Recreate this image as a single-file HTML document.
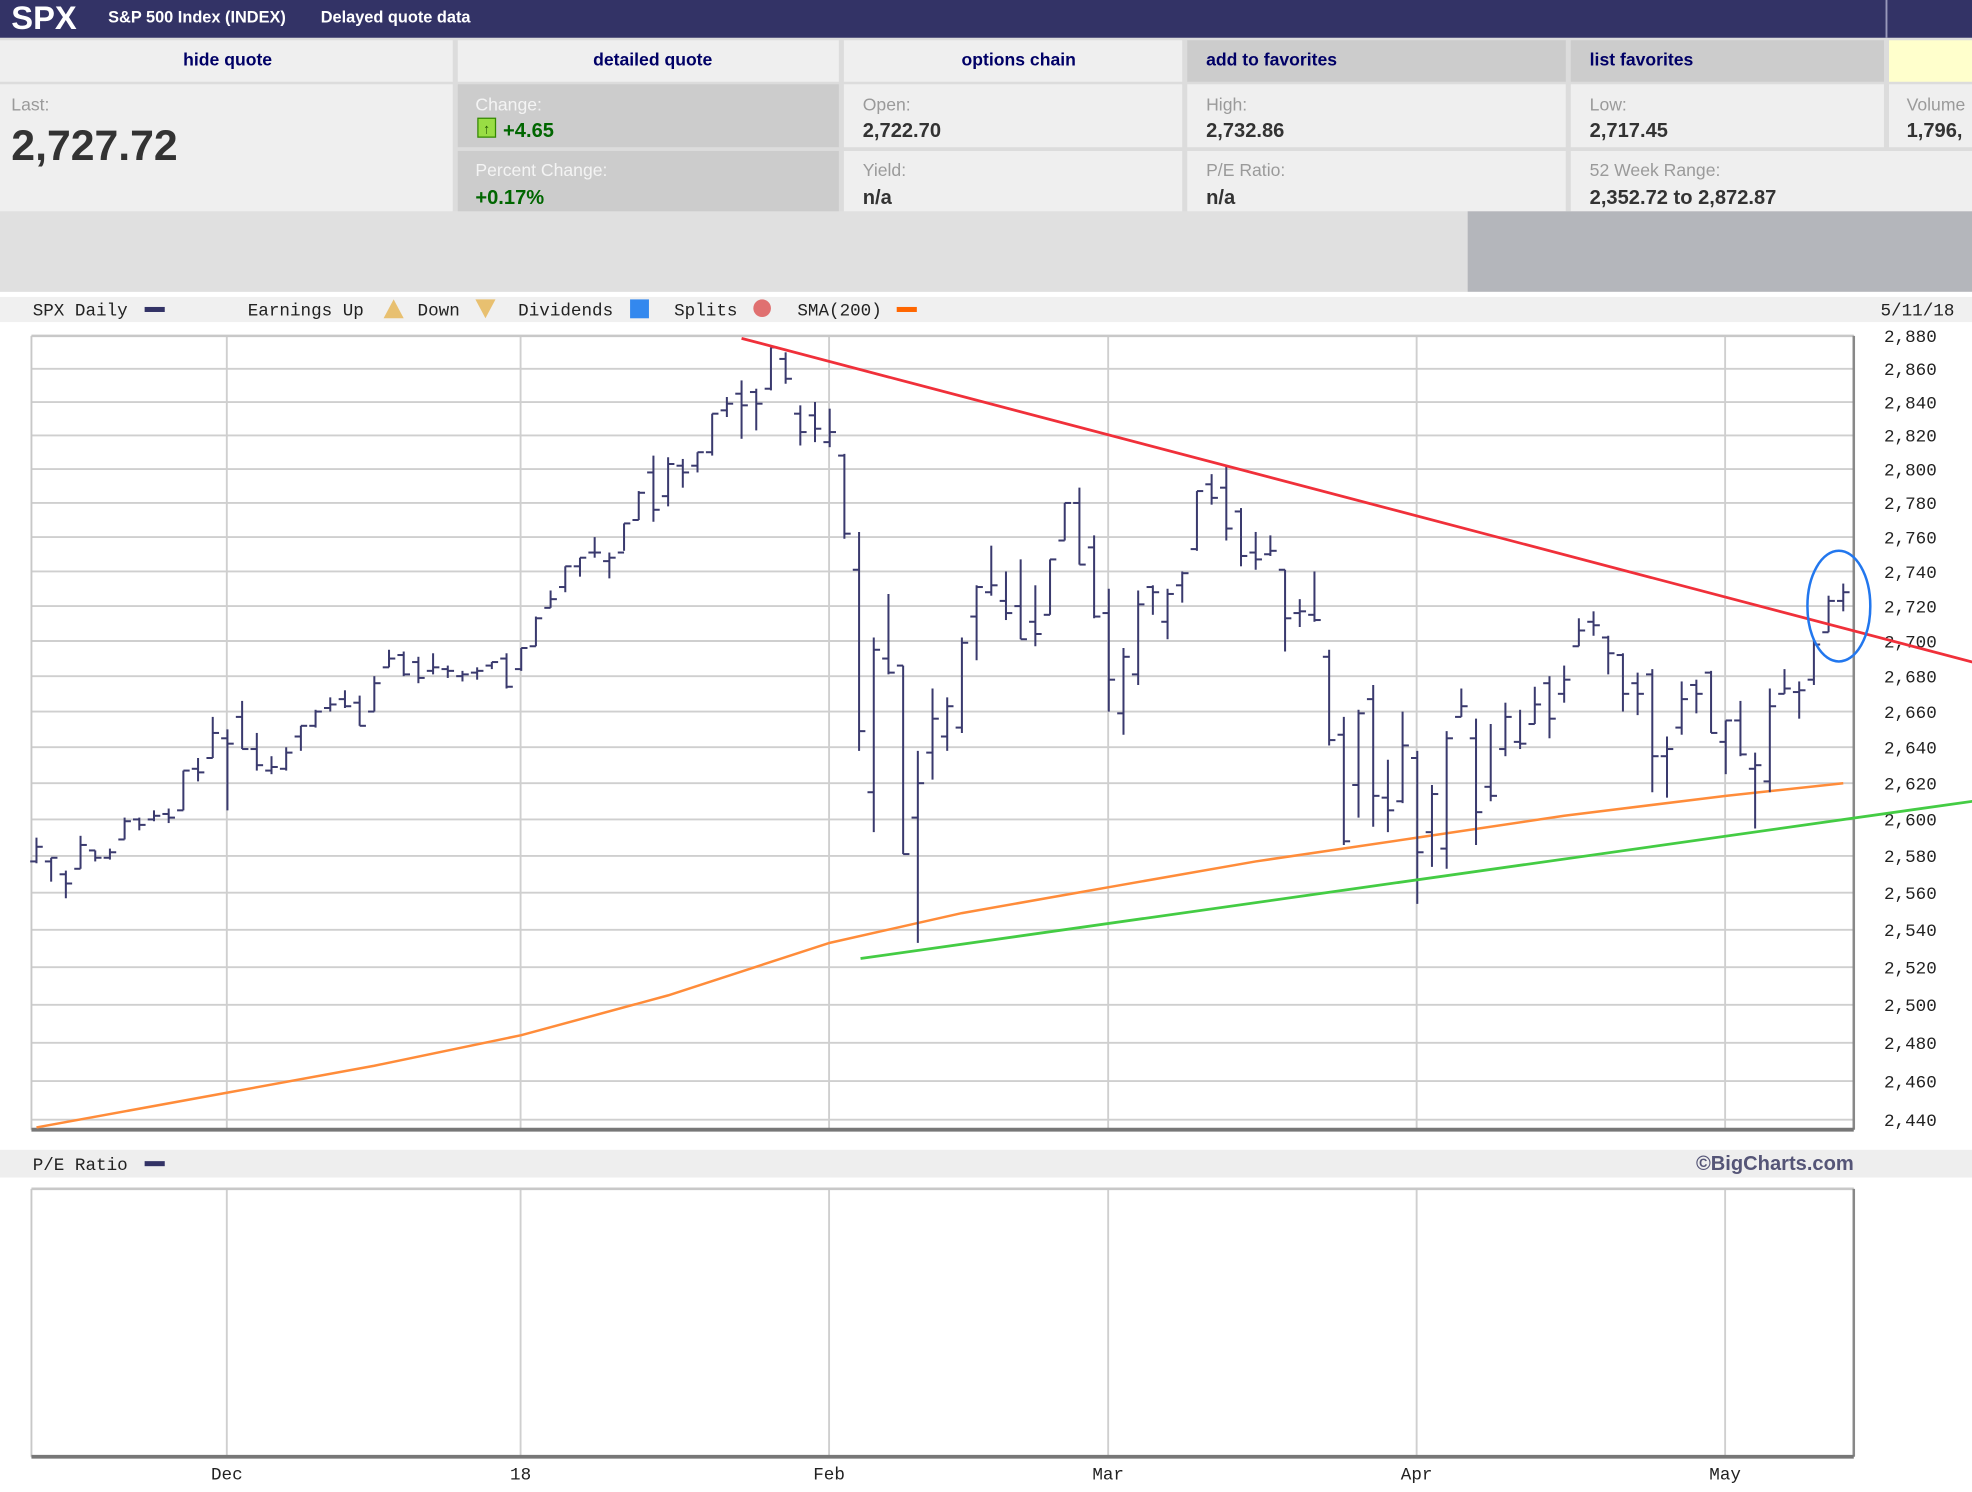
<!DOCTYPE html>
<html><head><meta charset="utf-8"><style>
html,body{margin:0;padding:0;background:#fff;}
svg{display:block;}
.h{font-family:"Liberation Sans",sans-serif;}
.m{font-family:"Liberation Mono",monospace;}
</style></head><body>
<svg id="root" width="1972" height="1492" viewBox="0 0 1568 1186" preserveAspectRatio="none" xmlns="http://www.w3.org/2000/svg">
<rect x="0" y="0" width="1568" height="1186" fill="#dcdcdc"/>
<!-- header -->
<g>
<rect x="0" y="0" width="1568" height="30" fill="#333366"/>
<line x1="1500" y1="0" x2="1500" y2="30" stroke="#9999bb" stroke-width="1.5"/>
<text x="9" y="23" class="h" font-size="26" font-weight="bold" fill="#fff">SPX</text>
<text x="86" y="18" class="h" font-size="13" font-weight="bold" fill="#fff">S&amp;P 500 Index (INDEX)</text>
<text x="255" y="18" class="h" font-size="13" font-weight="bold" fill="#fff">Delayed quote data</text>
</g>
<g class="h" font-size="14" font-weight="bold" fill="#000066">
<rect x="0" y="32" width="360" height="33" fill="#efefef"/>
<rect x="364" y="32" width="303" height="33" fill="#efefef"/>
<rect x="671" y="32" width="269" height="33" fill="#efefef"/>
<rect x="944" y="32" width="301" height="33" fill="#cccccc"/>
<rect x="1249" y="32" width="249" height="33" fill="#cccccc"/>
<rect x="1502" y="32" width="66" height="33" fill="#ffffcc"/>
<text x="181" y="52" text-anchor="middle">hide quote</text>
<text x="519" y="52" text-anchor="middle">detailed quote</text>
<text x="810" y="52" text-anchor="middle">options chain</text>
<text x="959" y="52">add to favorites</text>
<text x="1264" y="52">list favorites</text>
</g>
<g class="h">
<rect x="0" y="67" width="360" height="101" fill="#efefef"/>
<rect x="364" y="67" width="303" height="50" fill="#cccccc"/>
<rect x="364" y="120" width="303" height="48" fill="#cccccc"/>
<rect x="671" y="67" width="269" height="50" fill="#efefef"/>
<rect x="944" y="67" width="301" height="50" fill="#efefef"/>
<rect x="1249" y="67" width="249" height="50" fill="#efefef"/>
<rect x="1502" y="67" width="66" height="50" fill="#efefef"/>
<rect x="671" y="120" width="269" height="48" fill="#efefef"/>
<rect x="944" y="120" width="301" height="48" fill="#efefef"/>
<rect x="1249" y="120" width="319" height="48" fill="#efefef"/>
<rect x="0" y="168" width="1568" height="64" fill="#e0e0e0"/>
<rect x="1167" y="168" width="401" height="64" fill="#b4b6bb"/>
<g font-size="14" fill="#9a9a9a">
<text x="9" y="88">Last:</text>
<text x="378" y="88" fill="#f4f4f4">Change:</text>
<text x="378" y="140" fill="#f4f4f4">Percent Change:</text>
<text x="686" y="88">Open:</text>
<text x="959" y="88">High:</text>
<text x="1264" y="88">Low:</text>
<text x="1516" y="88">Volume</text>
<text x="686" y="140">Yield:</text>
<text x="959" y="140">P/E Ratio:</text>
<text x="1264" y="140">52 Week Range:</text>
</g>
<text x="9" y="127" font-size="34" font-weight="bold" fill="#333">2,727.72</text>
<rect x="380" y="94" width="14" height="15" fill="#99dd44" stroke="#338800" stroke-width="1"/>
<text x="387" y="106" font-size="11" text-anchor="middle" fill="#225500">↑</text>
<g font-size="16" font-weight="bold" fill="#333">
<text x="400" y="109" fill="#006600">+4.65</text>
<text x="378" y="162" fill="#006600">+0.17%</text>
<text x="686" y="109">2,722.70</text>
<text x="959" y="109">2,732.86</text>
<text x="1264" y="109">2,717.45</text>
<text x="1516" y="109">1,796,</text>
<text x="686" y="162">n/a</text>
<text x="959" y="162">n/a</text>
<text x="1264" y="162">2,352.72 to 2,872.87</text>
</g>
</g>
<!-- chart area -->
<rect x="0" y="232" width="1568" height="954" fill="#ffffff"/>
<rect x="0" y="236" width="1568" height="20" fill="#f0f0f0"/>
<g class="m" font-size="14" fill="#222">
<text x="26" y="251">SPX Daily</text><rect x="115" y="244" width="16" height="4" fill="#333366"/>
<text x="197" y="251">Earnings Up</text><polygon points="305,253 313,238 321,253" fill="#e8c070"/>
<text x="332" y="251">Down</text><polygon points="378,238 394,238 386,253" fill="#e8c070"/>
<text x="412" y="251">Dividends</text><rect x="501" y="238" width="15" height="15" fill="#3388ee"/>
<text x="536" y="251">Splits</text><circle cx="606" cy="245" r="7" fill="#e07070"/>
<text x="634" y="251">SMA(200)</text><rect x="713" y="244" width="16" height="4" fill="#ff6600"/>
<text x="1554" y="251" text-anchor="end">5/11/18</text>
</g>
<g id="plot"></g>
<rect x="0" y="914" width="1568" height="22" fill="#eeeeee"/>
<g class="m" font-size="14" fill="#222">
<text x="26" y="930">P/E Ratio</text><rect x="115" y="923" width="16" height="4" fill="#333366"/>
<text x="1474" y="930" text-anchor="end" class="h" font-weight="bold" font-size="16" fill="#555577">©BigCharts.com</text>
</g>
<g id="pe"></g>
</svg>
<script>
const NS='http://www.w3.org/2000/svg';
// ---- data ----
const monthLabels=['Dec','18','Feb','Mar','Apr','May'];
const monthStartIdx=[13,33,54,73,94,115];
const yTicks=[2440,2460,2480,2500,2520,2540,2560,2580,2600,2620,2640,2660,2680,2700,2720,2740,2760,2780,2800,2820,2840,2860,2880];
const opens=[2577,2577,2570,2573,2583,2579,2589,2600,2600,2603,2605,2628,2634,
2645,2657,2639,2627,2628,2646,2652,2662,2667,2665,2660,2685,2692,2688,2683,2684,2680,2682,2686,2690,
2684,2697,2719,2731,2743,2751,2746,2751,2770,2798,2784,2802,2802,2810,2835,2845,2846,2848,2866,2833,2832,
2816,2808,2741,2615,2690,2686,2601,2637,2646,2651,2714,2728,2723,2720,2711,2715,2758,2780,2754,
2716,2659,2681,2731,2711,2732,2753,2791,2789,2775,2751,2750,2741,2716,2715,2691,2647,2619,2667,2612,2610,
2634,2593,2584,2657,2645,2618,2639,2643,2653,2676,2670,2697,2711,2702,2692,2676,2681,2635,2651,2675,2682,
2643,2655,2628,2621,2670,2671,2678,2705,2723];
const highs=[2590,2579,2572,2591,2583,2584,2601,2601,2605,2606,2627,2634,2657,
2650,2666,2648,2635,2640,2652,2661,2668,2672,2669,2680,2695,2694,2691,2693,2686,2683,2685,2688,2693,
2696,2714,2729,2743,2748,2760,2751,2768,2787,2808,2807,2806,2810,2833,2843,2853,2848,2873,2870,2838,2840,
2836,2809,2763,2702,2727,2686,2638,2673,2668,2702,2732,2755,2740,2747,2732,2747,2780,2789,2761,
2730,2696,2729,2732,2730,2740,2787,2797,2802,2777,2763,2761,2741,2724,2740,2695,2657,2661,2675,2633,2660,
2638,2619,2649,2673,2656,2653,2665,2661,2674,2680,2686,2713,2717,2703,2693,2682,2684,2646,2677,2678,2683,
2655,2666,2637,2673,2684,2677,2701,2726,2733];
const lows=[2576,2566,2557,2573,2577,2578,2589,2594,2599,2598,2605,2621,2634,
2605,2639,2627,2625,2627,2638,2651,2660,2662,2652,2660,2685,2680,2676,2681,2679,2677,2678,2684,2673,
2683,2697,2719,2728,2737,2748,2736,2752,2770,2769,2778,2789,2798,2808,2831,2818,2823,2847,2851,2814,2816,
2813,2759,2638,2593,2681,2581,2533,2622,2638,2648,2689,2726,2712,2701,2697,2715,2758,2744,2713,
2660,2647,2675,2715,2701,2722,2752,2779,2758,2743,2741,2749,2694,2708,2711,2641,2586,2601,2596,2593,2609,
2554,2574,2573,2657,2586,2610,2635,2639,2653,2645,2665,2697,2703,2681,2660,2658,2615,2612,2647,2659,2648,
2625,2635,2595,2615,2670,2656,2675,2705,2717];
const closes=[2585,2579,2565,2586,2579,2582,2599,2597,2602,2601,2627,2626,2648,
2642,2639,2630,2629,2637,2652,2660,2664,2663,2652,2676,2690,2681,2679,2685,2683,2681,2683,2688,2674,
2696,2713,2724,2743,2748,2751,2748,2768,2786,2776,2803,2798,2810,2833,2839,2838,2839,2873,2854,2822,2824,
2822,2762,2649,2695,2682,2581,2620,2656,2663,2699,2731,2732,2716,2701,2704,2747,2780,2744,2714,
2678,2691,2721,2728,2727,2739,2787,2783,2765,2749,2747,2752,2713,2717,2712,2644,2588,2659,2613,2605,2641,
2582,2614,2645,2663,2604,2613,2657,2642,2664,2656,2678,2706,2709,2693,2670,2670,2635,2639,2667,2670,2648,
2655,2636,2630,2663,2673,2672,2698,2723,2728];
const smaIdx=[0,13,23,33,43,54,63,73,83,94,104,115,123];
const smaVal=[2436,2454,2468,2484,2505,2533,2549,2563,2577,2590,2602,2613,2620];
const redTrend=[[48,2878.5],[131.8,2688]];
const greenTrend=[[56.1,2524.6],[131.8,2610]];
const circleMark=[122.7,2720];
// ---- axes ----
const X0=29,DX=11.68,PL=25,PR=1474,PT=267,PB=898,K=3758,VMAX=2880;
const xs=i=>X0+i*DX;
const ys=v=>PT+K*Math.log(VMAX/v);
const plot=document.getElementById('plot'),pe=document.getElementById('pe');
function mk(tag,at,parent){const e=document.createElementNS(NS,tag);for(const k in at)e.setAttribute(k,at[k]);parent.appendChild(e);return e;}
mk('rect',{x:PL,y:PT,width:PR-PL,height:PB-PT,fill:'#fff'},plot);
yTicks.forEach((v,k)=>{
  const y=ys(v);
  const g=mk('line',{x1:PL,x2:PR,y1:y,y2:y,stroke:'#cfcfcf','stroke-width':1.5},plot);
  
  
  const t=mk('text',{x:1540,y:y+5,'text-anchor':'end','font-size':14,fill:'#222','class':'m'},plot);
  
  
  t.textContent=v.toLocaleString('en-US');
});
monthStartIdx.forEach((i,k)=>{
  const x=xs(i)-0.5;
  const g=mk('line',{x1:x,x2:x,y1:PT,y2:PB,stroke:'#cfcfcf','stroke-width':1.5},plot);
  
  
  const g2=mk('line',{x1:x,x2:x,y1:945,y2:1158,stroke:'#cfcfcf','stroke-width':1.5},pe);
  
  
  const t=mk('text',{x:x,y:1176,'text-anchor':'middle','font-size':14,fill:'#222','class':'m'},pe);
  
  
  t.textContent=monthLabels[k];
});
// frame
mk('line',{x1:PL,y1:PT,x2:PR,y2:PT,stroke:'#c8c8c8','stroke-width':2},plot);
mk('line',{x1:PL,y1:PT,x2:PL,y2:PB,stroke:'#c8c8c8','stroke-width':1.5},plot);
mk('line',{x1:PR,y1:PT,x2:PR,y2:PB,stroke:'#888','stroke-width':2},plot);
mk('line',{x1:PL,y1:PB,x2:PR,y2:PB,stroke:'#777','stroke-width':3},plot);
mk('line',{x1:PL,y1:945,x2:PR,y2:945,stroke:'#c8c8c8','stroke-width':2},pe);
mk('line',{x1:PL,y1:945,x2:PL,y2:1158,stroke:'#c8c8c8','stroke-width':1.5},pe);
mk('line',{x1:PR,y1:945,x2:PR,y2:1158,stroke:'#888','stroke-width':2},pe);
mk('line',{x1:PL,y1:1158,x2:PR,y2:1158,stroke:'#777','stroke-width':3},pe);
// SMA
const sma=mk('polyline',{points:smaIdx.map((i,k)=>xs(i)+','+ys(smaVal[k])).join(' '),fill:'none',stroke:'#ff8c3a','stroke-width':2},plot);


// bars
const bars=mk('g',{stroke:'#3a3a6e','stroke-width':1.6},plot);


closes.forEach((c,i)=>{
  const x=xs(i);
  const g=mk('g',{},bars);
  
  
  mk('line',{x1:x,x2:x,y1:ys(highs[i]),y2:ys(lows[i])},g);
  mk('line',{x1:x-5,x2:x,y1:ys(opens[i]),y2:ys(opens[i])},g);
  mk('line',{x1:x,x2:x+5,y1:ys(c),y2:ys(c)},g);
});
// trendlines
const r=mk('line',{x1:xs(redTrend[0][0]),y1:ys(redTrend[0][1]),x2:xs(redTrend[1][0]),y2:ys(redTrend[1][1]),stroke:'#f0303a','stroke-width':2.2},plot);


const gr=mk('line',{x1:xs(greenTrend[0][0]),y1:ys(greenTrend[0][1]),x2:xs(greenTrend[1][0]),y2:ys(greenTrend[1][1]),stroke:'#44cc44','stroke-width':2.2},plot);


const ci=mk('ellipse',{cx:xs(circleMark[0]),cy:ys(circleMark[1]),rx:25,ry:44,fill:'none',stroke:'#2277ee','stroke-width':2},plot);


</script>
</body></html>
